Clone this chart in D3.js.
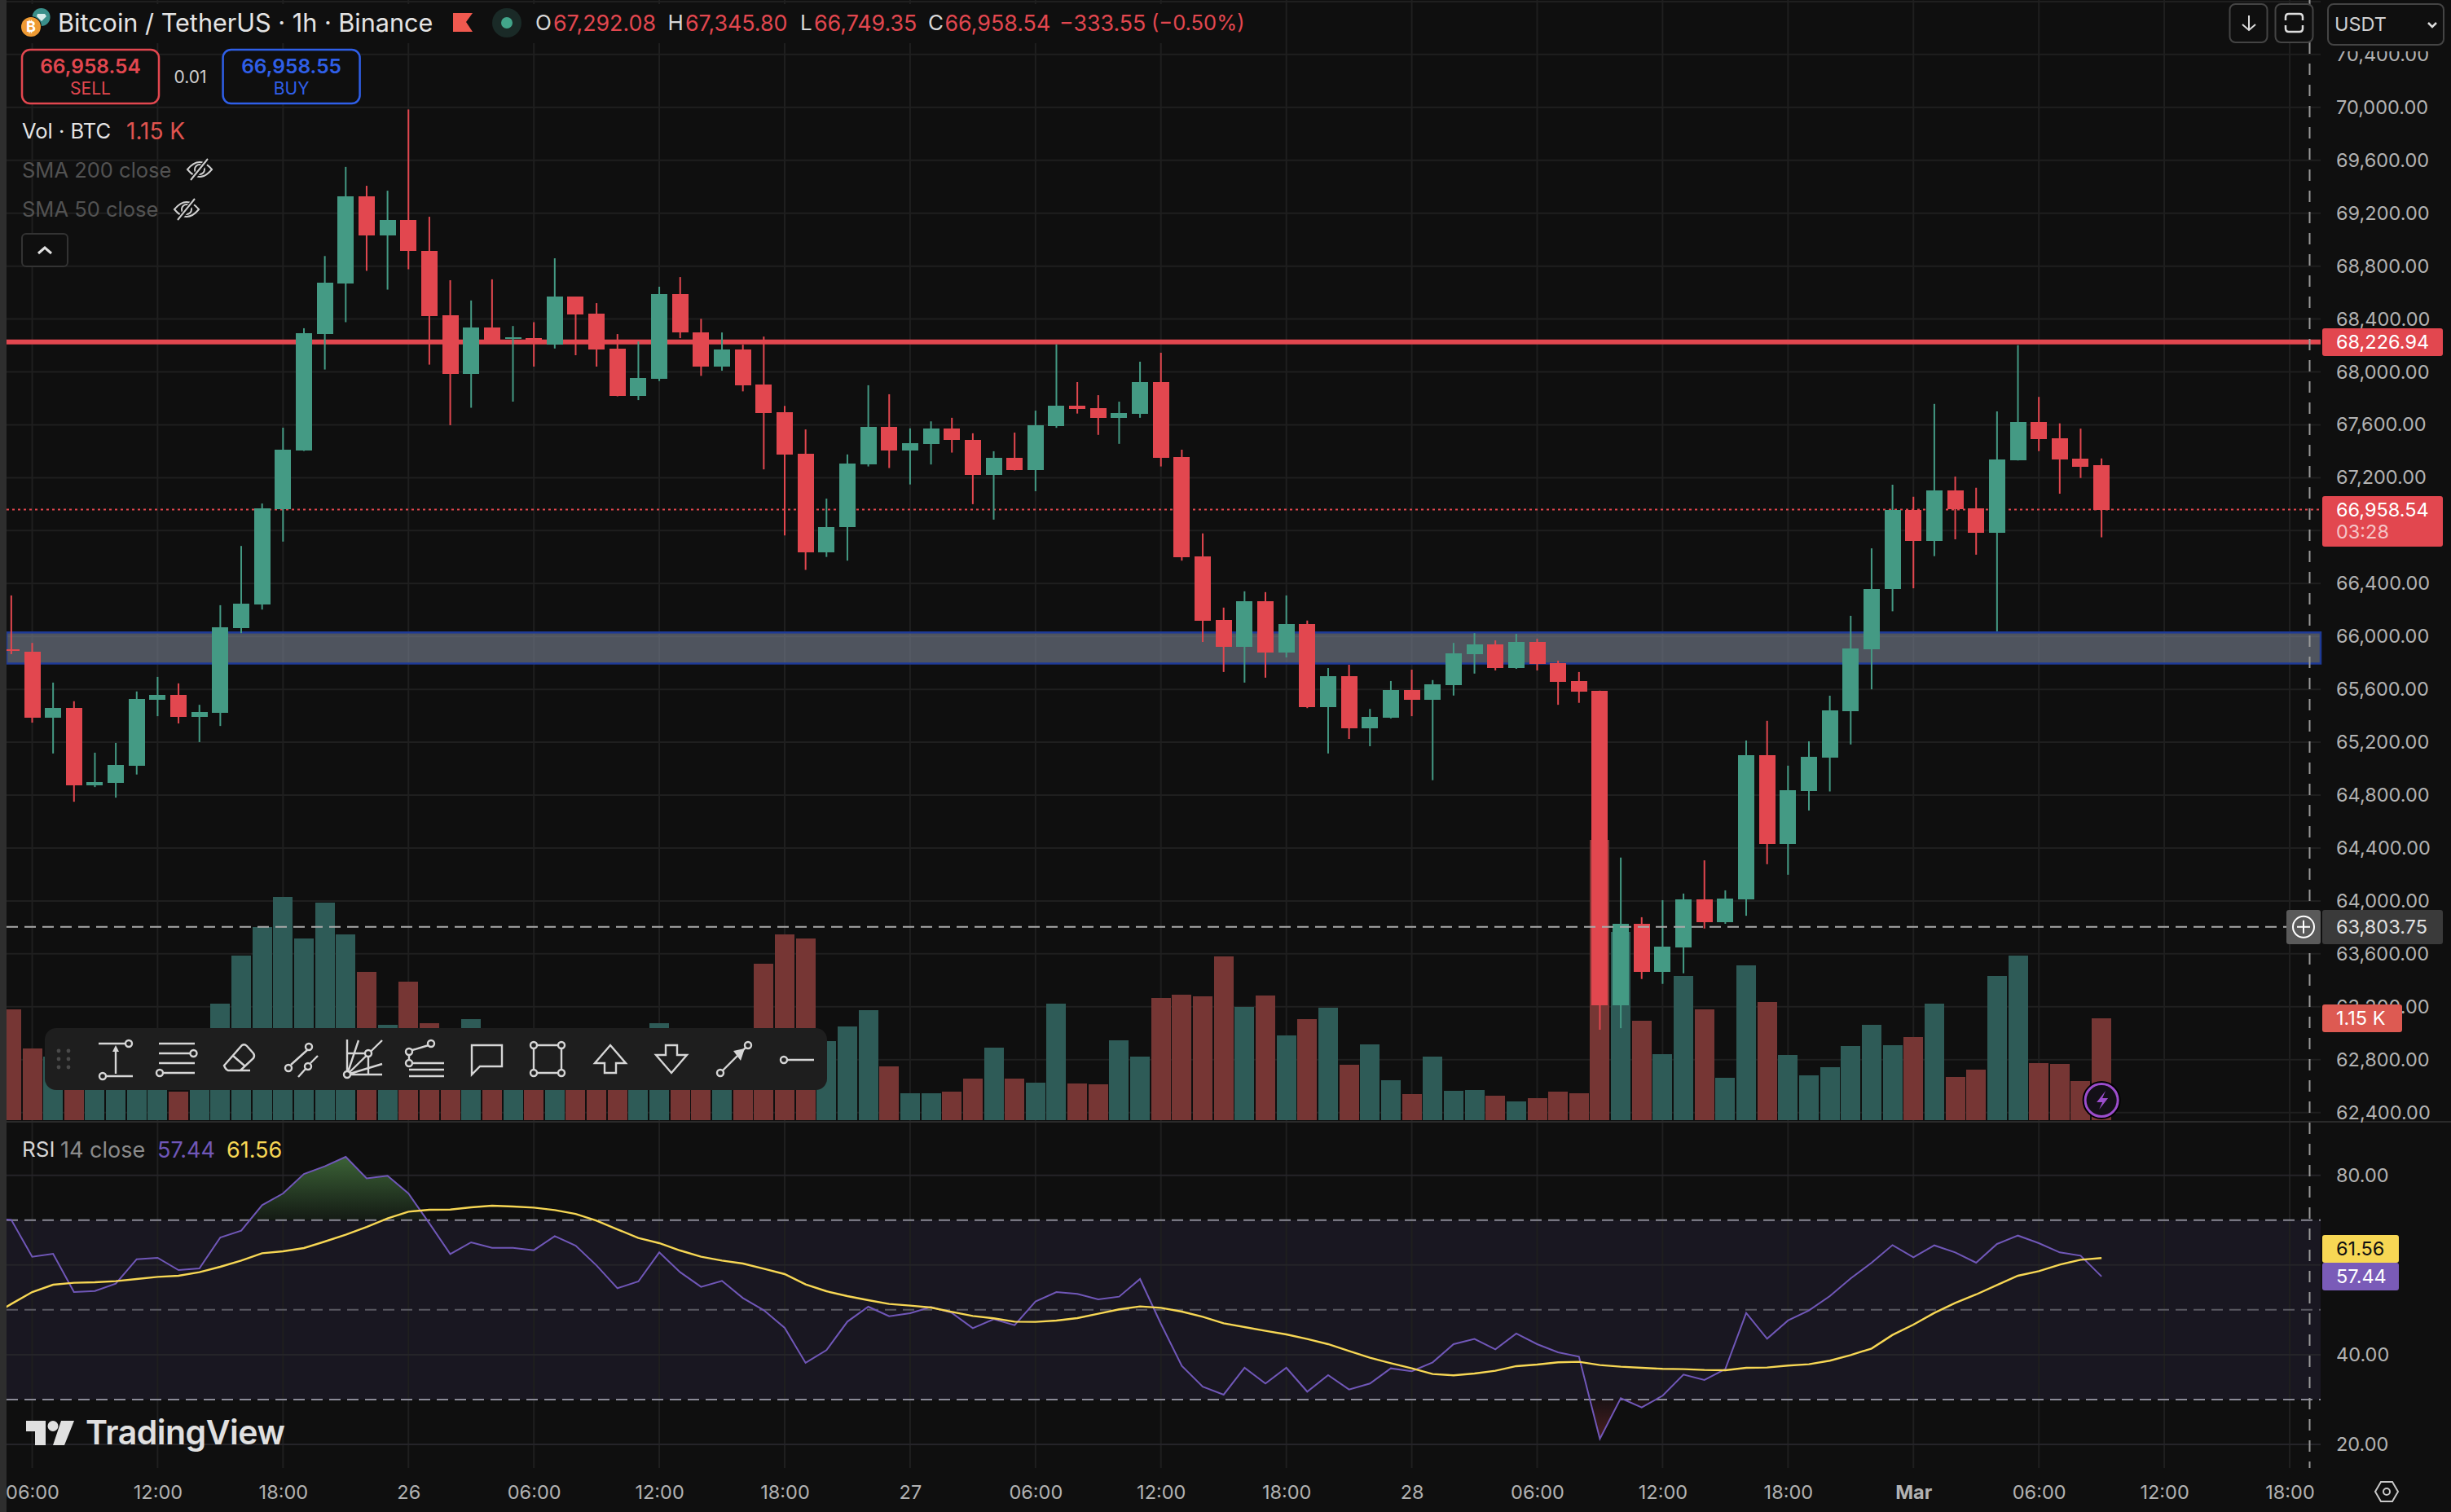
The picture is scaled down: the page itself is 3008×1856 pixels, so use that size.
<!DOCTYPE html>
<html>
<head>
<meta charset="utf-8">
<script src="https://cdnjs.cloudflare.com/ajax/libs/d3/7.8.5/d3.min.js"></script>
<style>
  html, body { margin: 0; background: #0f0f0f; }
  svg { display: block; }
  text { font-family: Inter, "Noto Sans", sans-serif; }
</style>
</head>
<body>
<svg id="chart-area" width="3008" height="1856"></svg>
<script>
// Candles, one per hour. Index 0 is the partly hidden 05:00 bar on Feb 25
const candleOpen = [65905,65884,65385,65458,64873,64894,65023,65522,65559,65391,65421,66062,66242,66963,67407,68289,68671,69329,69034,69148,68912,68427,67982,68335,68250,68254,68206,68569,68440,68177,67821,67950,68588,68296,68040,68169,67904,67694,67380,66635,66825,67302,67585,67407,67456,67573,67485,67222,67351,67259,67590,67746,67726,67653,67682,67923,67356,66604,66126,65921,66267,65878,66096,65464,65700,65305,65385,65596,65522,65633,65866,65939,65762,65958,65798,65663,65590,63213,63827,63463,63648,64014,63840,64014,65103,64430,64831,65085,65434,65902,66356,66957,66720,67105,66969,66785,67334,67622,67498,67345,67292.08];
const candleHigh = [66310,65951,65651,65510,65121,65195,65584,65694,65645,65483,66236,66684,67005,67578,68330,68876,69550,69407,69370,69984,69173,68693,68540,68700,68347,68376,68859,68569,68520,68286,68230,68644,68717,68401,68298,68206,68267,67743,67565,67042,67376,67899,67831,67573,67626,67653,67536,67400,67541,67707,68208,67923,67824,67775,68077,68145,67412,66779,66218,66341,66335,66310,66120,65761,65786,65452,65663,65749,65670,65951,66025,65970,66019,65982,65817,65731,65590,64328,63877,64006,64056,64307,64080,65213,65362,65023,65207,65552,66156,66666,67147,67056,67758,67209,67124,67701,68202,67811,67611,67571,67345.80];
const candleLow = [65866,65348,65115,64750,64861,64781,64956,65397,65342,65201,65323,66025,66203,66717,67402,68018,68376,68764,68622,68776,68055,67597,67729,68220,67775,68040,68177,68126,68040,67815,67787,67931,68255,67970,68009,67853,67263,66763,66503,66601,66573,67285,67273,67149,67300,67390,67000,66883,67255,67098,67577,67685,67524,67456,67653,67285,66573,65958,65731,65651,65688,65841,65458,65115,65225,65170,65380,65397,64913,65553,65719,65743,65755,65743,65483,65498,63026,63038,63410,63373,63453,63792,63827,63888,64278,64198,64684,64828,65183,65600,66190,66364,66607,66734,66618,66038,67330,67401,67079,67198,66749.35];
const candleClose = [65895,65385,65458,64873,64901,65029,65529,65559,65391,65427,66068,66249,66969,67412,68294,68673,69329,69034,69148,68912,68423,67982,68335,68235,68260,68230,68569,68435,68169,67821,67955,68588,68296,68040,68169,67899,67690,67375,66635,66828,67307,67585,67407,67461,67573,67483,67222,67351,67259,67597,67746,67719,67653,67690,67923,67351,66598,66120,65921,66267,65878,66096,65464,65700,65305,65391,65596,65522,65639,65872,65939,65762,65958,65792,65657,65584,63213,63828,63463,63656,64014,63840,64019,65103,64430,64839,65090,65442,65910,66359,66957,66720,67105,66963,66785,67339,67622,67492,67339,67283,66958.54];
// Volume in thousands of BTC. The bars behind the drawing toolbar are estimates
const volumeK = [1.254,0.81,0.72,0.55,0.5,0.6,0.7,0.45,0.325,0.6,1.318,1.858,2.183,2.522,2.055,2.458,2.10,1.675,1.075,1.565,1.094,0.9,1.144,0.7,0.6,0.55,0.7,0.5,0.55,0.6,0.5,1.094,0.9,0.6,0.6,0.7,1.767,2.092,2.046,0.892,1.057,1.245,0.609,0.307,0.307,0.325,0.471,0.819,0.471,0.426,1.318,0.416,0.407,0.902,0.719,1.382,1.419,1.400,1.849,1.281,1.410,0.957,1.144,1.272,0.627,0.856,0.453,0.297,0.719,0.334,0.343,0.279,0.211,0.252,0.325,0.307,3.167,2.128,1.121,0.742,1.627,1.248,0.479,1.747,1.332,0.734,0.503,0.598,0.834,1.073,0.846,0.937,1.312,0.487,0.570,1.627,1.855,0.642,0.634,0.439,1.15];
// RSI pane, starts one hour earlier than the candles so the lines run off the left edge
const rsiValues = [70.3,70.07,61.84,62.51,53.97,54.21,55.85,61.30,61.60,58.87,59.24,66.14,67.65,73.34,75.94,80.30,82.00,84.12,79.33,79.88,75.94,69.29,62.45,65.05,63.84,63.84,63.29,66.44,64.32,59.90,54.82,56.33,62.81,58.39,55.12,56.45,52.64,49.92,45.98,38.17,41.02,47.37,50.70,48.58,49.25,50.64,49.31,45.92,47.92,46.59,51.85,53.97,53.55,52.34,52.94,56.88,46.89,37.51,32.85,31.09,37.08,33.57,37.08,31.76,35.45,32.24,33.57,36.96,36.30,38.29,42.35,43.50,41.20,44.71,42.35,40.53,39.56,21.22,30.30,28.25,30.85,35.57,34.36,36.78,49.31,43.56,47.62,49.85,53.06,57.00,60.51,64.44,61.72,64.38,62.81,60.51,64.69,66.56,64.87,62.81,62.08,57.44];
const rsiAverage = [48.6,51.31,53.97,55.60,56.03,56.15,56.39,56.88,57.36,57.60,58.39,59.60,60.99,62.63,63.05,63.78,65.23,66.74,68.50,70.38,71.89,72.31,72.37,72.86,73.22,73.04,72.80,72.25,71.40,69.89,67.95,66.02,64.87,63.23,61.84,60.99,60.33,59.18,57.97,55.67,54.15,53.06,52.15,51.31,50.94,50.52,49.55,48.64,48.10,47.37,47.31,47.62,48.16,49.13,50.10,50.76,50.46,49.61,48.46,47.01,46.16,45.31,44.53,43.50,42.35,40.83,39.32,38.11,36.96,35.69,35.39,35.81,36.42,37.45,37.81,38.29,38.41,37.69,37.32,37.08,36.84,36.78,36.60,36.54,37.08,37.14,37.57,37.87,38.66,39.93,41.38,44.41,46.71,49.31,51.55,53.43,55.55,57.60,58.63,60.08,61.17,61.56];

// Axis ticks and levels
const priceTicks = [70800,70400,70000,69600,69200,68800,68400,68000,67600,67200,66800,66400,66000,65600,65200,64800,64400,64000,63600,63200,62800,62400];
const hiddenPriceLabels = [70800, 66800];
const rsiTicks = [80,60,40,20];
const rsiTickLabels = [80,40,20];
const rsiBands = [70,50,30];
const timeTicks = [0,6,12,18,24,30,36,42,48,54,60,66,72,78,84,90,96,102,108];
const timeLabels = ["06:00","12:00","18:00","26","06:00","12:00","18:00","27","06:00","12:00","18:00","28","06:00","12:00","18:00","Mar","06:00","12:00","18:00"];
const resistanceLevel = 68226.94;
const lastPrice = 66958.54;
const crosshairPrice = 63803.75;
const zoneTop = 66030;
const zoneBottom = 65795;

// Layout and colours
const W = 3008, H = 1856;
const plot = { left: 8, right: 2848, mainBottom: 1377, rsiBottom: 1802 };
const RED = "#e2474f", GREEN = "#449a84", VOL_RED = "#763634", VOL_GREEN = "#2e5b57";
const GRID = "#1f1f1f", AXIS_TEXT = "#b2b2b2", BG = "#0f0f0f";

const svg = d3.select("#chart-area");
const defs = svg.append("defs");

const x = d3.scaleLinear().domain([0, 108]).range([39.5, 2810]);
const y = d3.scaleLinear().domain([62400, 70000]).range([1365.7, 131.8]);
const yVol = d3.scaleLinear().domain([0, 4]).range([1375, 940]);
const yRsi = d3.scaleLinear().domain([20, 80]).range([1773, 1442.7]);

const hours = d3.range(-1, 100);
const candles = hours.map((h, i) => ({
  h, open: candleOpen[i], high: candleHigh[i], low: candleLow[i], close: candleClose[i], vol: volumeK[i]
}));
const up = d => d.close >= d.open;

defs.append("clipPath").attr("id", "clip-main").append("rect")
  .attr("x", plot.left).attr("y", 0).attr("width", plot.right - plot.left).attr("height", plot.mainBottom);
defs.append("clipPath").attr("id", "clip-rsi").append("rect")
  .attr("x", plot.left).attr("y", plot.mainBottom).attr("width", plot.right - plot.left).attr("height", plot.rsiBottom - plot.mainBottom);
defs.append("clipPath").attr("id", "clip-over").append("rect")
  .attr("x", plot.left).attr("y", plot.mainBottom).attr("width", plot.right - plot.left).attr("height", yRsi(70) - plot.mainBottom);
defs.append("clipPath").attr("id", "clip-under").append("rect")
  .attr("x", plot.left).attr("y", yRsi(30)).attr("width", plot.right - plot.left).attr("height", plot.rsiBottom - yRsi(30));

const overGrad = defs.append("linearGradient").attr("id", "grad-over").attr("x1", 0).attr("x2", 0)
  .attr("gradientUnits", "userSpaceOnUse").attr("y1", yRsi(84)).attr("y2", yRsi(70));
overGrad.append("stop").attr("offset", 0).attr("stop-color", "#3b6236");
overGrad.append("stop").attr("offset", 1).attr("stop-color", "#141a14");
const underGrad = defs.append("linearGradient").attr("id", "grad-under").attr("x1", 0).attr("x2", 0)
  .attr("gradientUnits", "userSpaceOnUse").attr("y1", yRsi(30)).attr("y2", yRsi(21));
underGrad.append("stop").attr("offset", 0).attr("stop-color", "#1a1214");
underGrad.append("stop").attr("offset", 1).attr("stop-color", "#4a1f22");

function label(px, py, str, size, fill, anchor, weight) {
  return svg.append("text").attr("x", px).attr("y", py).attr("dy", "0.36em")
    .attr("font-size", size).attr("fill", fill)
    .attr("text-anchor", anchor || "start").attr("font-weight", weight || 400).text(str);
}

// 1. Background and the RSI shaded range
svg.append("rect").attr("width", W).attr("height", H).attr("fill", BG);
svg.append("rect").attr("x", plot.left).attr("y", yRsi(70)).attr("width", plot.right - plot.left)
  .attr("height", yRsi(30) - yRsi(70)).attr("fill", "#191721");

// 2. Grid
svg.append("g").selectAll("line").data(timeTicks).enter().append("line")
  .attr("x1", d => x(d)).attr("x2", d => x(d)).attr("y1", 0).attr("y2", plot.rsiBottom)
  .attr("stroke", GRID).attr("stroke-width", 2);
svg.append("g").selectAll("line").data(priceTicks).enter().append("line")
  .attr("x1", plot.left).attr("x2", plot.right).attr("y1", d => y(d)).attr("y2", d => y(d))
  .attr("stroke", GRID).attr("stroke-width", 2);
svg.append("g").selectAll("line").data(rsiTicks).enter().append("line")
  .attr("x1", plot.left).attr("x2", plot.right).attr("y1", d => yRsi(d)).attr("y2", d => yRsi(d))
  .attr("stroke", "#252429").attr("stroke-width", 2);

// 3. Support zone and resistance line
svg.append("rect").attr("x", plot.left).attr("width", plot.right - plot.left)
  .attr("y", y(zoneTop)).attr("height", y(zoneBottom) - y(zoneTop))
  .attr("fill", "rgba(122,130,147,0.6)").attr("stroke", "#1e3a96").attr("stroke-width", 2.5);
svg.append("line").attr("x1", plot.left).attr("x2", plot.right)
  .attr("y1", y(resistanceLevel)).attr("y2", y(resistanceLevel))
  .attr("stroke", RED).attr("stroke-width", 6);
svg.append("line").attr("x1", plot.left).attr("x2", plot.right)
  .attr("y1", y(lastPrice)).attr("y2", y(lastPrice))
  .attr("stroke", RED).attr("stroke-width", 2).attr("stroke-dasharray", "3,4");

// 4. Volume and candles
const main = svg.append("g").attr("clip-path", "url(#clip-main)");
main.append("g").selectAll("rect").data(candles).enter().append("rect")
  .attr("x", d => x(d.h) - 12).attr("width", 24)
  .attr("y", d => yVol(d.vol)).attr("height", d => yVol(0) - yVol(d.vol))
  .attr("fill", d => up(d) ? VOL_GREEN : VOL_RED)
  .attr("shape-rendering", "crispEdges");
main.append("g").selectAll("line").data(candles).enter().append("line")
  .attr("x1", d => x(d.h)).attr("x2", d => x(d.h))
  .attr("y1", d => y(d.high)).attr("y2", d => y(d.low))
  .attr("stroke", d => up(d) ? GREEN : RED).attr("stroke-width", 2);
main.append("g").selectAll("rect").data(candles).enter().append("rect")
  .attr("x", d => x(d.h) - 10).attr("width", 20)
  .attr("y", d => y(Math.max(d.open, d.close)))
  .attr("height", d => Math.max(2, Math.abs(y(d.open) - y(d.close))))
  .attr("fill", d => up(d) ? GREEN : RED)
  .attr("shape-rendering", "crispEdges");

// 5. RSI pane
const rsiPoints = d3.range(-2, 100).map((h, i) => ({ h, rsi: rsiValues[i], avg: rsiAverage[i] }));
const overArea = d3.area().x(d => x(d.h)).y0(yRsi(70)).y1(d => yRsi(d.rsi));
const underArea = d3.area().x(d => x(d.h)).y0(yRsi(30)).y1(d => yRsi(d.rsi));
svg.append("path").datum(rsiPoints).attr("d", overArea).attr("fill", "url(#grad-over)").attr("clip-path", "url(#clip-over)");
svg.append("path").datum(rsiPoints).attr("d", underArea).attr("fill", "url(#grad-under)").attr("clip-path", "url(#clip-under)");
svg.append("g").selectAll("line").data(rsiBands).enter().append("line")
  .attr("x1", plot.left).attr("x2", plot.right).attr("y1", d => yRsi(d)).attr("y2", d => yRsi(d))
  .attr("stroke", d => d === 50 ? "#5a5a62" : "#8a8a96").attr("stroke-width", 2).attr("stroke-dasharray", "14,8");
const rsiLines = svg.append("g").attr("clip-path", "url(#clip-rsi)");
rsiLines.append("path").datum(rsiPoints)
  .attr("d", d3.line().x(d => x(d.h)).y(d => yRsi(d.rsi)))
  .attr("fill", "none").attr("stroke", "#7057b8").attr("stroke-width", 2);
rsiLines.append("path").datum(rsiPoints)
  .attr("d", d3.line().x(d => x(d.h)).y(d => yRsi(d.avg)))
  .attr("fill", "none").attr("stroke", "#f7d754").attr("stroke-width", 2.4);

// Pane divider and left strip
svg.append("rect").attr("x", plot.left).attr("y", plot.mainBottom - 1).attr("width", W - plot.left).attr("height", 2).attr("fill", "#2a2a2a");
svg.append("rect").attr("width", plot.left).attr("height", H).attr("fill", "#2e2e2e");

// 6. Axes
const priceAxis = svg.append("g").attr("transform", "translate(2867,0)")
  .call(d3.axisRight(y).tickValues(priceTicks.filter(d => !hiddenPriceLabels.includes(d))).tickSize(0).tickPadding(0).tickFormat(d3.format(",.2f")));
const rsiAxis = svg.append("g").attr("transform", "translate(2867,0)")
  .call(d3.axisRight(yRsi).tickValues(rsiTickLabels).tickSize(0).tickPadding(0).tickFormat(d3.format(".2f")));
const timeAxis = svg.append("g").attr("transform", "translate(0,1832)")
  .call(d3.axisBottom(x).tickValues(timeTicks).tickSize(0).tickPadding(0).tickFormat((d, i) => timeLabels[i]));
[priceAxis, rsiAxis, timeAxis].forEach(a => {
  a.select(".domain").remove();
  a.selectAll("text").attr("font-size", 23.5).attr("fill", AXIS_TEXT).attr("font-family", "Inter");
});
timeAxis.selectAll("text").attr("y", 0).attr("dy", "0.36em")
  .attr("font-weight", (d, i) => timeLabels[i] === "Mar" ? 700 : 400);

// 7. Crosshair
svg.append("line").attr("x1", plot.left).attr("x2", 2806).attr("y1", y(crosshairPrice)).attr("y2", y(crosshairPrice))
  .attr("stroke", "#aaaaaa").attr("stroke-width", 2).attr("stroke-dasharray", "14,8");
svg.append("line").attr("x1", 2834.5).attr("x2", 2834.5).attr("y1", 0).attr("y2", plot.rsiBottom)
  .attr("stroke", "#999999").attr("stroke-width", 2).attr("stroke-dasharray", "14,12");

// 8. Price scale badges
function badge(bx, by, bw, bh, fill) {
  svg.append("rect").attr("x", bx).attr("y", by).attr("width", bw).attr("height", bh).attr("rx", 3).attr("fill", fill);
}
badge(2850, 403, 148, 34, RED);
label(2867, y(resistanceLevel), d3.format(",.2f")(resistanceLevel), 23.5, "#ffffff");
badge(2850, 609, 148, 62, RED);
label(2867, y(lastPrice), d3.format(",.2f")(lastPrice), 23.5, "#ffffff");
label(2867, 653, "03:28", 23.5, "#f5c4c6");
badge(2850, 1233, 98, 34, "#dd5a52");
label(2867, 1250, "1.15 K", 23.5, "#ffffff");
badge(2806, 1117, 42, 42, "#5a5a5a");
badge(2850, 1117, 148, 42, "#3a3a3a");
label(2867, y(crosshairPrice), d3.format(",.2f")(crosshairPrice), 23.5, "#e0e0e0");
svg.append("circle").attr("cx", 2827).attr("cy", y(crosshairPrice)).attr("r", 13).attr("fill", "none").attr("stroke", "#fff").attr("stroke-width", 2);
svg.append("path").attr("d", `M2819,${y(crosshairPrice)}h16M2827,${y(crosshairPrice) - 8}v16`).attr("stroke", "#fff").attr("stroke-width", 2);
badge(2850, 1516, 94, 34, "#f7d754");
label(2867, 1533, "61.56", 23.5, "#111111");
badge(2850, 1550, 94, 34, "#7a5bb8");
label(2867, 1567, "57.44", 23.5, "#ffffff");

// Settings hexagon
svg.append("path").attr("d", "M2922,1819h14l7,12l-7,12h-14l-7,-12z").attr("fill", "none").attr("stroke", "#c8c8c8").attr("stroke-width", 2);
svg.append("circle").attr("cx", 2929).attr("cy", 1831).attr("r", 4).attr("fill", "none").attr("stroke", "#c8c8c8").attr("stroke-width", 2);

// Lightning marker on the last bar
svg.append("circle").attr("cx", x(99)).attr("cy", 1350.5).attr("r", 21).attr("fill", "#141018").attr("stroke", "#000").attr("stroke-width", 5);
svg.append("circle").attr("cx", x(99)).attr("cy", 1350.5).attr("r", 20).attr("fill", "none").attr("stroke", "#9c4dcc").attr("stroke-width", 3);
svg.append("path").attr("d", `M${x(99) + 5},1339l-11,14h7l-4,9l11,-14h-7z`).attr("fill", "#9c4dcc");

// 9. Header and legend
svg.append("rect").attr("x", plot.left).attr("y", 5).attr("width", 1525).attr("height", 48).attr("fill", BG);
svg.append("circle").attr("cx", 50.6).attr("cy", 21).attr("r", 11).attr("fill", "#3a8f8a");
svg.append("path").attr("d", "M46,17h9l2,3l-6,6l-6,-6z").attr("fill", "#d8ecea");
svg.append("circle").attr("cx", 38).attr("cy", 33).attr("r", 13).attr("fill", BG);
svg.append("circle").attr("cx", 38).attr("cy", 33).attr("r", 12).attr("fill", "#ee9a33");
label(38, 33, "₿", 18, "#ffffff", "middle", 700);
label(71, 28, "Bitcoin / TetherUS · 1h · Binance", 30.6, "#e4e4e4");
svg.append("path").attr("d", "M556,16h24l-8,11l8,12h-24z").attr("fill", "#f0594f");
svg.append("circle").attr("cx", 622).attr("cy", 28).attr("r", 18).attr("fill", "#1a2a27");
svg.append("circle").attr("cx", 622).attr("cy", 28).attr("r", 7).attr("fill", "#42a58a");

const ohlcRow = [
  ["O", 657, "#d8d8d8", 26], ["67,292.08", 679, RED, 26.8],
  ["H", 819.5, "#d8d8d8", 26], ["67,345.80", 841, RED, 26.8],
  ["L", 982, "#d8d8d8", 26], ["66,749.35", 999, RED, 26.8],
  ["C", 1139, "#d8d8d8", 26], ["66,958.54", 1159.5, RED, 26.8],
  ["−333.55", 1300, RED, 26.8], ["(−0.50%)", 1413, RED, 25.5]
];
ohlcRow.forEach(d => label(d[1], 28, d[0], d[3], d[2]));

// Sell and buy boxes
[[27, RED, "66,958.54", "SELL"], [273.6, "#2f5fe8", "66,958.55", "BUY"]].forEach(d => {
  svg.append("rect").attr("x", d[0]).attr("y", 61).attr("width", 168).attr("height", 66).attr("rx", 10)
    .attr("fill", BG).attr("stroke", d[1]).attr("stroke-width", 2.5);
  label(d[0] + 84, 81, d[2], 24.5, d[1], "middle", 600);
  label(d[0] + 84, 108, d[3], 21, d[1], "middle");
});
label(213.5, 94, "0.01", 21, "#d0d0d0");

label(27, 161, "Vol · BTC", 25.5, "#e4e4e4");
label(155, 161, "1.15 K", 28, "#e0544f");
label(27, 209, "SMA 200 close", 25.5, "#525252");
label(27, 257, "SMA 50 close", 25.5, "#525252");
[[245, 208], [229, 257]].forEach(p => {
  const g = svg.append("g").attr("transform", `translate(${p[0]},${p[1]})`)
    .attr("fill", "none").attr("stroke", "#cfcfcf").attr("stroke-width", 2);
  g.append("path").attr("d", "M-15,0Q0,-18 15,0Q0,18 -15,0z");
  g.append("circle").attr("r", 6);
  g.append("path").attr("d", "M-10,13L11,-13").attr("stroke", BG).attr("stroke-width", 6);
  g.append("path").attr("d", "M-11,13L10,-13");
});
svg.append("rect").attr("x", 27).attr("y", 287).attr("width", 56).attr("height", 40).attr("rx", 5)
  .attr("fill", BG).attr("stroke", "#333333").attr("stroke-width", 2);
svg.append("path").attr("d", "M47,311l8,-7l8,7").attr("fill", "none").attr("stroke", "#e0e0e0").attr("stroke-width", 3);

label(27, 1411, "RSI", 26, "#d6d6d6");
label(74, 1411, "14 close", 27, "#8a8a8a");
label(193, 1411, "57.44", 27, "#7057b8");
label(278, 1411, "61.56", 27, "#f7d754");

// 10. Top right buttons
svg.append("rect").attr("x", 2848).attr("y", 0).attr("width", 160).attr("height", 63).attr("fill", BG);
[[2736.5, 46], [2792.5, 46], [2857, 142]].forEach((d, i) => {
  svg.append("rect").attr("x", d[0]).attr("y", 5).attr("width", d[1]).attr("height", i === 2 ? 50 : 47).attr("rx", 7)
    .attr("fill", BG).attr("stroke", "#444444").attr("stroke-width", 2);
});
svg.append("path").attr("d", "M2760,19v18M2752,30l8,7l8,-7").attr("fill", "none").attr("stroke", "#dddddd").attr("stroke-width", 2);
svg.append("path").attr("d", "M2805,25v-4q0,-4 4,-4h13q4,0 4,4v4M2805,31v4q0,4 4,4h13q4,0 4,-4v-4").attr("fill", "none").attr("stroke", "#dddddd").attr("stroke-width", 2.5);
label(2865, 30, "USDT", 23.5, "#d0d0d0");
svg.append("path").attr("d", "M2980,28l5,5l5,-5").attr("fill", "none").attr("stroke", "#dddddd").attr("stroke-width", 2.5);

// 11. Drawing toolbar
svg.append("rect").attr("x", 55).attr("y", 1262).attr("width", 960).attr("height", 76).attr("rx", 14).attr("fill", "#1e1e1e");
[-10, 0, 10].forEach(dy => [0, 12].forEach(dx => {
  svg.append("circle").attr("cx", 72 + dx).attr("cy", 1300 + dy).attr("r", 2.4).attr("fill", "#4a4a4a");
}));
const toolIcons = [
  { cx: 142, d: "M-21,-19H12M-12,21H21M0,18V-10", dots: [[16, -19], [-16, 21]], fill: "M0,-17L-4,-9H4Z" },
  { cx: 217, d: "M-22,-19H22M-22,-7H16M-22,5H22M-16,17H22", dots: [[20.5, -7], [-21, 17]] },
  { cx: 293, d: "M-18,8L4,-17Q7,-19 10,-16L18,-7Q20,-4 18,-1L2,14H-13Q-16,13 -18,8ZM-7,-4L8,9M-10,14H14" },
  { cx: 371, d: "M-14,7L6,-11M-5,22L4,12M10,5L19,-4", dots: [[-17, 11], [8, -15], [7, 9]] },
  { cx: 446, d: "M-20,-24V19H23M-20,-7H6V19M-20,19L-6,-23M-20,19L23,-23M-20,19L23,6", dots: [[-20, 19], [6, -7]] },
  { cx: 521, d: "M-15,-11L5,-17M-19,-5V1M-15,5H24M-19,13H24M-19,21H24", dots: [[8, -19], [-19, -9], [-19, 5]] },
  { cx: 598, d: "M-19,-17H18V9H-9L-19,19Z" },
  { cx: 672, d: "M-13,-17H13M-13,17H13M-17,-13V13M17,-13V13", dots: [[-17, -17], [17, -17], [-17, 17], [17, 17]] },
  { cx: 749, d: "M0,-17L19,5H7V17H-7V5H-19Z" },
  { cx: 824, d: "M-7,-17H7V-5H19L0,17L-19,-5H-7Z" },
  { cx: 901, d: "M-14,14L14,-14", dots: [[-17, 17], [17, -17]], fill: "M13,-13L-1,-10L8,2Z" },
  { cx: 981, d: "M-15,1H18", dots: [[-19, 1]] }
];
toolIcons.forEach(icon => {
  const g = svg.append("g").attr("transform", `translate(${icon.cx},1300)`)
    .attr("fill", "none").attr("stroke", "#d6d6d6").attr("stroke-width", 2.4);
  g.append("path").attr("d", icon.d);
  if (icon.fill) g.append("path").attr("d", icon.fill).attr("fill", "#d6d6d6").attr("stroke", "none");
  (icon.dots || []).forEach(p => g.append("circle").attr("cx", p[0]).attr("cy", p[1]).attr("r", 4).attr("fill", "#1e1e1e"));
});

// 12. TradingView watermark
svg.append("path").attr("d", "M32,1744H56V1774H43V1757H32Z").attr("fill", "#e0e0e0");
svg.append("circle").attr("cx", 65).attr("cy", 1750.5).attr("r", 6.5).attr("fill", "#e0e0e0");
svg.append("path").attr("d", "M75,1744H91L79,1774H65Z").attr("fill", "#e0e0e0");
svg.append("text").attr("x", 105).attr("y", 1773).attr("font-size", 41).attr("font-weight", 600)
  .attr("letter-spacing", -0.5).attr("fill", "#e0e0e0").text("TradingView");
</script>
</body>
</html>
